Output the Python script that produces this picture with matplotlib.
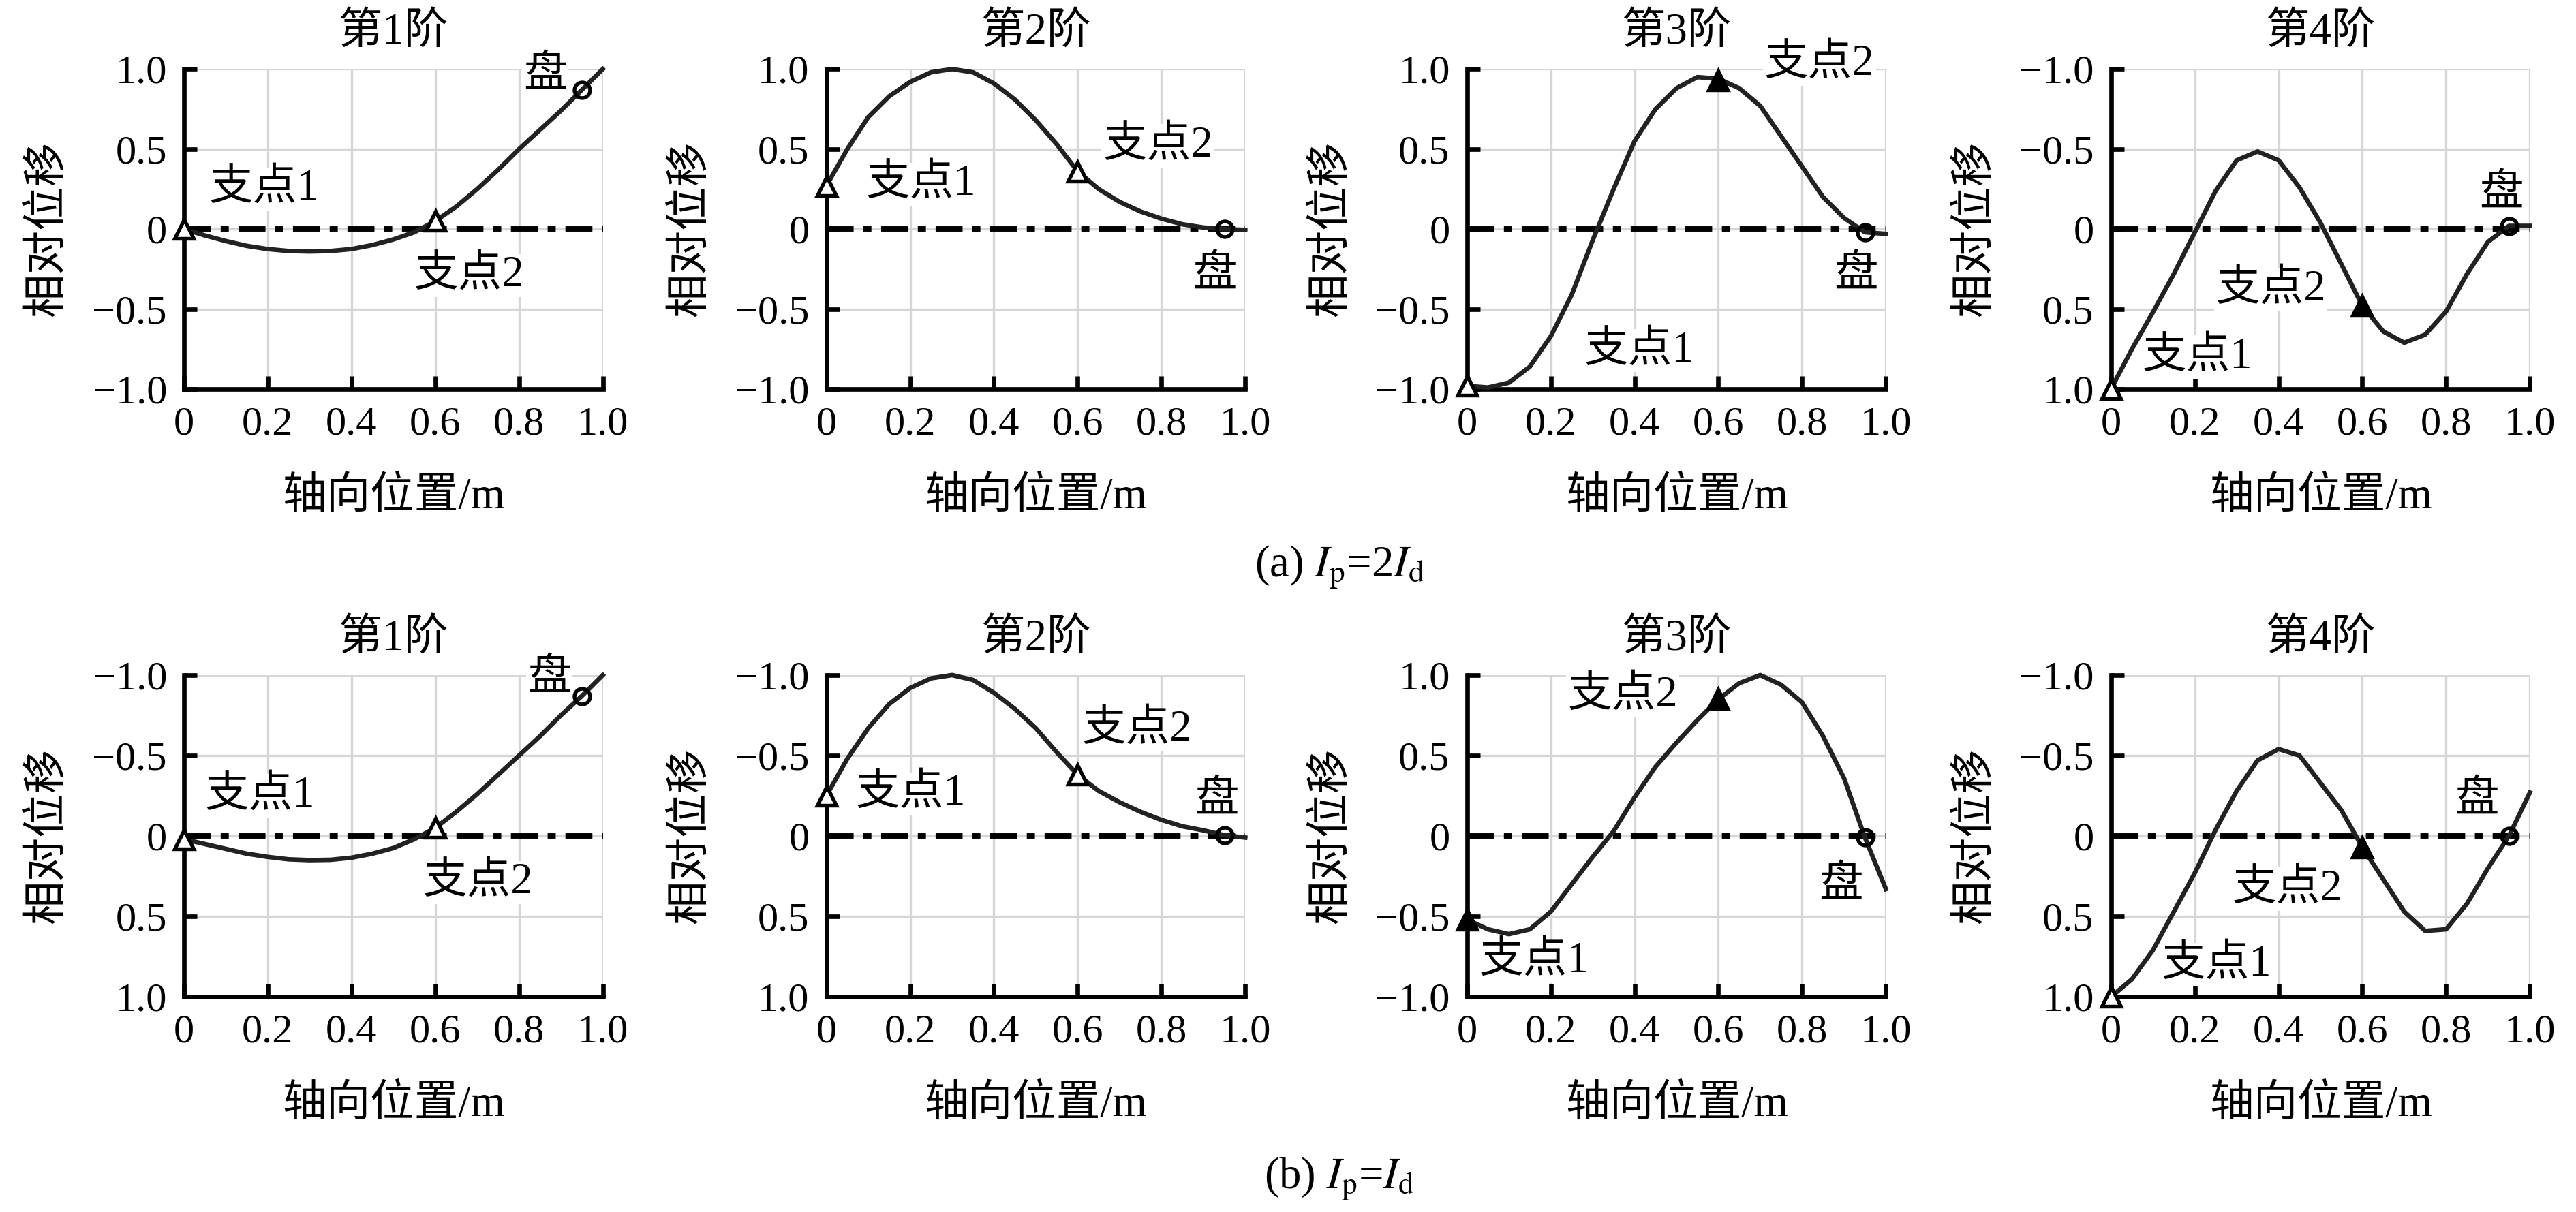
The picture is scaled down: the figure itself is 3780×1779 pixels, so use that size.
import numpy as np
import matplotlib
matplotlib.use('Agg')
import matplotlib.pyplot as plt

plt.rcParams['font.family'] = ['Liberation Serif', 'Noto Sans CJK SC', 'DejaVu Sans']
plt.rcParams['mathtext.fontset'] = 'stix'
plt.rcParams['axes.unicode_minus'] = True

# ---------------- data ----------------
x_pos = [0.0, 0.05, 0.1, 0.15, 0.2, 0.25, 0.3, 0.35, 0.4, 0.45, 0.5,
         0.55, 0.6, 0.65, 0.7, 0.75, 0.8, 0.85, 0.9, 0.95, 1.0]

# (a) Ip = 2Id
a_mode1 = [0.0, -0.04, -0.075, -0.105, -0.125, -0.137, -0.14, -0.137, -0.125, -0.1, -0.065,
           -0.02, 0.05, 0.14, 0.25, 0.37, 0.5, 0.62, 0.74, 0.87, 1.0]
a_mode2 = [0.27, 0.5, 0.7, 0.83, 0.92, 0.98, 1.0, 0.98, 0.91, 0.81, 0.68,
           0.53, 0.36, 0.25, 0.17, 0.11, 0.065, 0.03, 0.01, 0.0, -0.005]
a_mode3 = [-0.98, -0.99, -0.96, -0.86, -0.67, -0.41, -0.07, 0.25, 0.55, 0.75, 0.88,
           0.95, 0.94, 0.88, 0.77, 0.58, 0.39, 0.2, 0.07, -0.02, -0.03]
a_mode4 = [1.0, 0.75, 0.52, 0.28, 0.02, -0.24, -0.43, -0.485, -0.43, -0.26, -0.04,
           0.22, 0.48, 0.64, 0.71, 0.66, 0.515, 0.28, 0.08, -0.02, -0.02]

# (b) Ip = Id
b_mode1 = [0.02, 0.05, 0.08, 0.11, 0.13, 0.145, 0.15, 0.148, 0.135, 0.11, 0.075,
           0.02, -0.05, -0.15, -0.26, -0.38, -0.5, -0.62, -0.75, -0.87, -1.0]
b_mode2 = [-0.25, -0.48, -0.67, -0.82, -0.92, -0.98, -1.0, -0.97, -0.89, -0.79, -0.67,
           -0.52, -0.38, -0.28, -0.21, -0.15, -0.10, -0.06, -0.035, -0.005, 0.01]
b_mode3 = [-0.52, -0.58, -0.61, -0.58, -0.47, -0.30, -0.13, 0.03, 0.24, 0.43, 0.58,
           0.72, 0.85, 0.95, 1.0, 0.94, 0.83, 0.62, 0.36, -0.01, -0.33]
b_mode4 = [1.0, 0.89, 0.71, 0.47, 0.23, -0.04, -0.28, -0.47, -0.54, -0.50, -0.33,
           -0.16, 0.07, 0.27, 0.47, 0.59, 0.58, 0.42, 0.20, 0.0, -0.27]

support_x = [0.0, 0.6]
disk_x = 0.95
a_support_y = [[0.0, 0.05], [0.27, 0.36], [-0.98, 0.93], [1.0, 0.48]]
b_support_y = [[0.02, -0.05], [-0.25, -0.38], [-0.52, 0.85], [1.0, 0.07]]
a_disk_y = [0.87, 0.0, -0.02, -0.02]
b_disk_y = [-0.87, -0.005, -0.01, 0.0]

mode_titles = ['第1阶', '第2阶', '第3阶', '第4阶']
label_s1, label_s2, label_disk = '支点1', '支点2', '盘'
xticks = [0, 0.2, 0.4, 0.6, 0.8, 1.0]
xtick_labels = ['0', '0.2', '0.4', '0.6', '0.8', '1.0']
yticks = [-1.0, -0.5, 0, 0.5, 1.0]
ytick_labels = ['\u22121.0', '\u22120.5', '0', '0.5', '1.0']
xlabel = '轴向位置/m'
ylabel = '相对位移'
caption_a = r'(a) $I_{\mathrm{p}}$=2$I_{\mathrm{d}}$'
caption_b = r'(b) $I_{\mathrm{p}}$=$I_{\mathrm{d}}$'

# ---------------- layout / style ----------------
inverted_a = [False, False, False, True]
inverted_b = [True, True, False, True]
filled_a = [[False, False], [False, False], [False, True], [False, True]]
filled_b = [[False, False], [False, False], [True, True], [False, True]]

text_pos_a = [
    [(0.06, 0.25), (0.55, -0.29), (0.81, 0.96)],
    [(0.095, 0.28), (0.66, 0.52), (0.875, -0.29)],
    [(0.28, -0.76), (0.71, 1.03), (0.876, -0.29)],
    [(0.075, 0.80), (0.25, 0.38), (0.88, -0.22)],
]
text_pos_b = [
    [(0.05, -0.25), (0.57, 0.29), (0.82, -0.98)],
    [(0.07, -0.26), (0.61, -0.66), (0.88, -0.22)],
    [(0.03, -0.78), (0.24, 0.87), (0.84, -0.31)],
    [(0.12, 0.80), (0.29, 0.33), (0.82, -0.22)],
]

lefts = [0.0714, 0.3208, 0.5695, 0.8195]
width = 0.1626
row_bottom = [0.679, 0.1775]
row_height = [0.264, 0.2655]

TICK_FS = 14.5
CJK_FS = 15.5

fig = plt.figure(figsize=(12.6, 5.93), dpi=300)


def draw_panel(ax, y, sup_y, disk_y, inverted, filled, tpos, title):
    ax.set_xlim(0, 1.0)
    if inverted:
        ax.set_ylim(1.0, -1.0)
    else:
        ax.set_ylim(-1.0, 1.0)
    ax.set_xticks(xticks)
    ax.set_xticklabels(xtick_labels, fontsize=TICK_FS)
    ax.set_yticks(yticks)
    ax.set_yticklabels(ytick_labels, fontsize=TICK_FS)
    ax.grid(True, color='#d6d6d6', lw=0.8)
    ax.set_axisbelow(True)
    for s in ['top', 'right']:
        ax.spines[s].set_visible(False)
    for s in ['left', 'bottom']:
        ax.spines[s].set_linewidth(1.6)
        ax.spines[s].set_zorder(3)
    ax.tick_params(direction='in', length=4.5, width=1.6, pad=6, colors='black')
    ax.axhline(0, color='black', lw=1.9, ls=(0, (5, 1.8, 1.5, 1.8)), zorder=2)
    ax.plot(x_pos, y, color='#222222', lw=1.6, zorder=4, clip_on=False)
    for sx, sy, f in zip(support_x, sup_y, filled):
        ax.plot([sx], [sy], marker='^', ms=6.5, mec='black', mew=1.3,
                mfc='black' if f else 'white', ls='none', zorder=5, clip_on=False)
    ax.plot([disk_x], [disk_y], marker='o', ms=5.5, mec='black', mew=1.3,
            mfc='none', ls='none', zorder=5, clip_on=False)
    for (tx, ty), lab in zip(tpos, [label_s1, label_s2, label_disk]):
        ax.text(tx, ty, lab, fontsize=CJK_FS, ha='left', va='center', zorder=3,
                bbox=dict(facecolor='white', edgecolor='none', pad=0.5), clip_on=False)
    ax.set_title(title, fontsize=CJK_FS, pad=9)
    ax.set_xlabel(xlabel, fontsize=CJK_FS, labelpad=12)
    ax.set_ylabel(ylabel, fontsize=CJK_FS, labelpad=8)


rows = [
    ([a_mode1, a_mode2, a_mode3, a_mode4], a_support_y, a_disk_y, inverted_a, filled_a, text_pos_a),
    ([b_mode1, b_mode2, b_mode3, b_mode4], b_support_y, b_disk_y, inverted_b, filled_b, text_pos_b),
]
for r, (modes, sups, disks, invs, fills, tposs) in enumerate(rows):
    for c in range(4):
        ax = fig.add_axes([lefts[c], row_bottom[r], width, row_height[r]])
        draw_panel(ax, modes[c], sups[c], disks[c], invs[c], fills[c], tposs[c], mode_titles[c])

fig.text(0.52, 0.532, caption_a, fontsize=CJK_FS, ha='center', va='center')
fig.text(0.52, 0.027, caption_b, fontsize=CJK_FS, ha='center', va='center')

fig.savefig('out.png', dpi=300)
